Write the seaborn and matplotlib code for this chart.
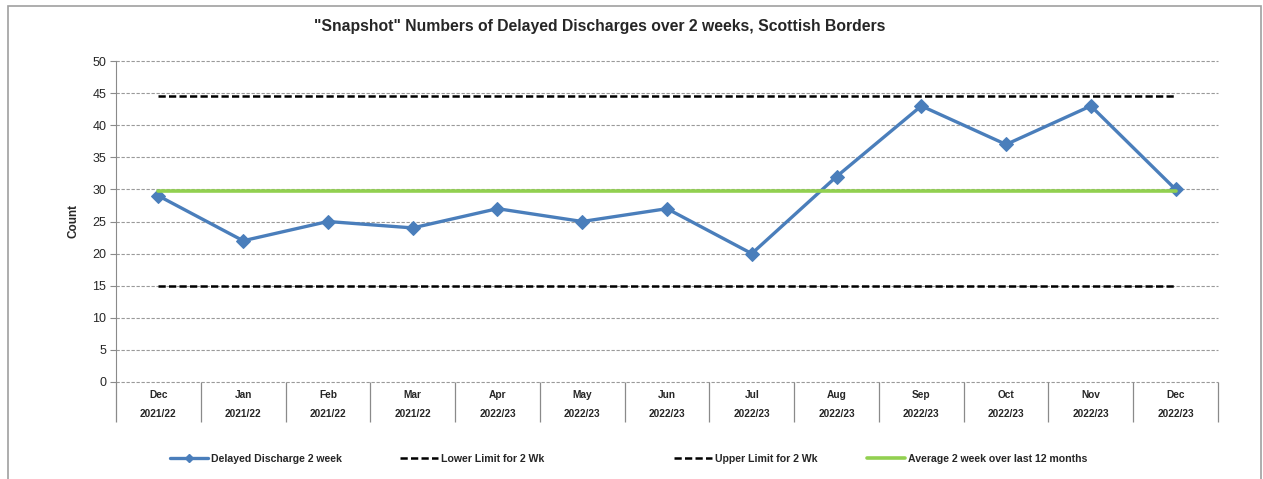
import numpy as np
import pandas as pd
import matplotlib.pyplot as plt
import seaborn as sns
from matplotlib.lines import Line2D
from matplotlib.patches import Rectangle

# data
months = ['Dec', 'Jan', 'Feb', 'Mar', 'Apr', 'May', 'Jun', 'Jul', 'Aug', 'Sep', 'Oct', 'Nov', 'Dec']
years = ['2021/22', '2021/22', '2021/22', '2021/22', '2022/23', '2022/23', '2022/23',
         '2022/23', '2022/23', '2022/23', '2022/23', '2022/23', '2022/23']
delayed = [29, 22, 25, 24, 27, 25, 27, 20, 32, 43, 37, 43, 30]
lower_limit = 15.0
upper_limit = 44.6
average = 29.8

sns.set_style('white')
plt.rcParams['font.family'] = ['Liberation Sans', 'DejaVu Sans']

df = pd.DataFrame({'pos': np.arange(len(months)),
                   'Delayed Discharge 2 week': delayed,
                   'Lower Limit for 2 Wk': [lower_limit] * len(months),
                   'Upper Limit for 2 Wk': [upper_limit] * len(months),
                   'Average 2 week over last 12 months': [average] * len(months)})

fig = plt.figure(figsize=(12.63, 4.79), dpi=100)
ax = fig.add_axes([116 / 1263, 1 - 382 / 479, (1218 - 116) / 1263, 321 / 479])

blue = '#4A7EBB'
green = '#92D050'
dash = (2.9, 1.3)

sns.lineplot(data=df, x='pos', y='Delayed Discharge 2 week', ax=ax, color=blue, lw=2.4,
             marker='D', markersize=7, markeredgecolor=blue, zorder=3)
sns.lineplot(data=df, x='pos', y='Lower Limit for 2 Wk', ax=ax, color='black', lw=1.8,
             dashes=dash, zorder=3)
sns.lineplot(data=df, x='pos', y='Upper Limit for 2 Wk', ax=ax, color='black', lw=1.8,
             dashes=dash, zorder=3)
sns.lineplot(data=df, x='pos', y='Average 2 week over last 12 months', ax=ax, color=green,
             lw=2.6, zorder=4)

ax.set_xlim(-0.5, len(months) - 0.5)
ax.set_ylim(0, 50)
ax.set_yticks(range(0, 51, 5))
ax.yaxis.grid(True, color='#9a9a9a', linestyle=(0, (3, 1.5)), lw=0.8)
for gl in ax.get_ygridlines():
    gl.set_clip_on(False)
ax.set_axisbelow(True)
for s in ['top', 'right', 'bottom']:
    ax.spines[s].set_visible(False)
ax.spines['left'].set_color('#8a8a8a')
ax.tick_params(axis='y', left=True, length=4, color='#8a8a8a', labelsize=9, pad=3)

# category labels (two rows) and separators
ax.set_xticks(np.arange(len(months)))
ax.set_xticklabels([f'{m}\n{y}' for m, y in zip(months, years)], fontsize=7.3,
                   fontweight='bold', linespacing=2.2)
ax.tick_params(axis='x', bottom=False, pad=2)
ax.vlines(np.arange(len(months) + 1) - 0.5, -0.125, 0, transform=ax.get_xaxis_transform(),
          color='#8a8a8a', lw=0.9, clip_on=False)

ax.set_xlabel('')
ax.set_ylabel('Count', fontsize=8.5, fontweight='bold', labelpad=9)

fig.text(600 / 1263, 1 - 26 / 479, '"Snapshot" Numbers of Delayed Discharges over 2 weeks, Scottish Borders',
         ha='center', va='center', fontsize=11.3, fontweight='bold')

# legend entries placed individually
handles = [Line2D([], [], color=blue, lw=2.4, marker='D', markersize=4, markevery=[1]),
           Line2D([], [], color='black', lw=1.8, dashes=dash),
           Line2D([], [], color='black', lw=1.8, dashes=dash),
           Line2D([], [], color=green, lw=2.6)]
labels = ['Delayed Discharge 2 week', 'Lower Limit for 2 Wk', 'Upper Limit for 2 Wk',
          'Average 2 week over last 12 months']
xs = [170, 400, 674, 867]
for h, l, x in zip(handles, labels, xs):
    fig.legend([h], [l], loc='center left', bbox_to_anchor=(x / 1263, 1 - 459 / 479),
               frameon=False, handlelength=3.6, handletextpad=0.3, borderpad=0, borderaxespad=0,
               prop={'size': 7.6, 'weight': 'bold'})

# outer chart border
fig.patches.append(Rectangle((8 / 1263, -0.05), (1261 - 8) / 1263, 1.05 - 6 / 479,
                             transform=fig.transFigure, fill=False, edgecolor='#a0a0a0', lw=1.2))

fig.savefig('out.png', dpi=100)
